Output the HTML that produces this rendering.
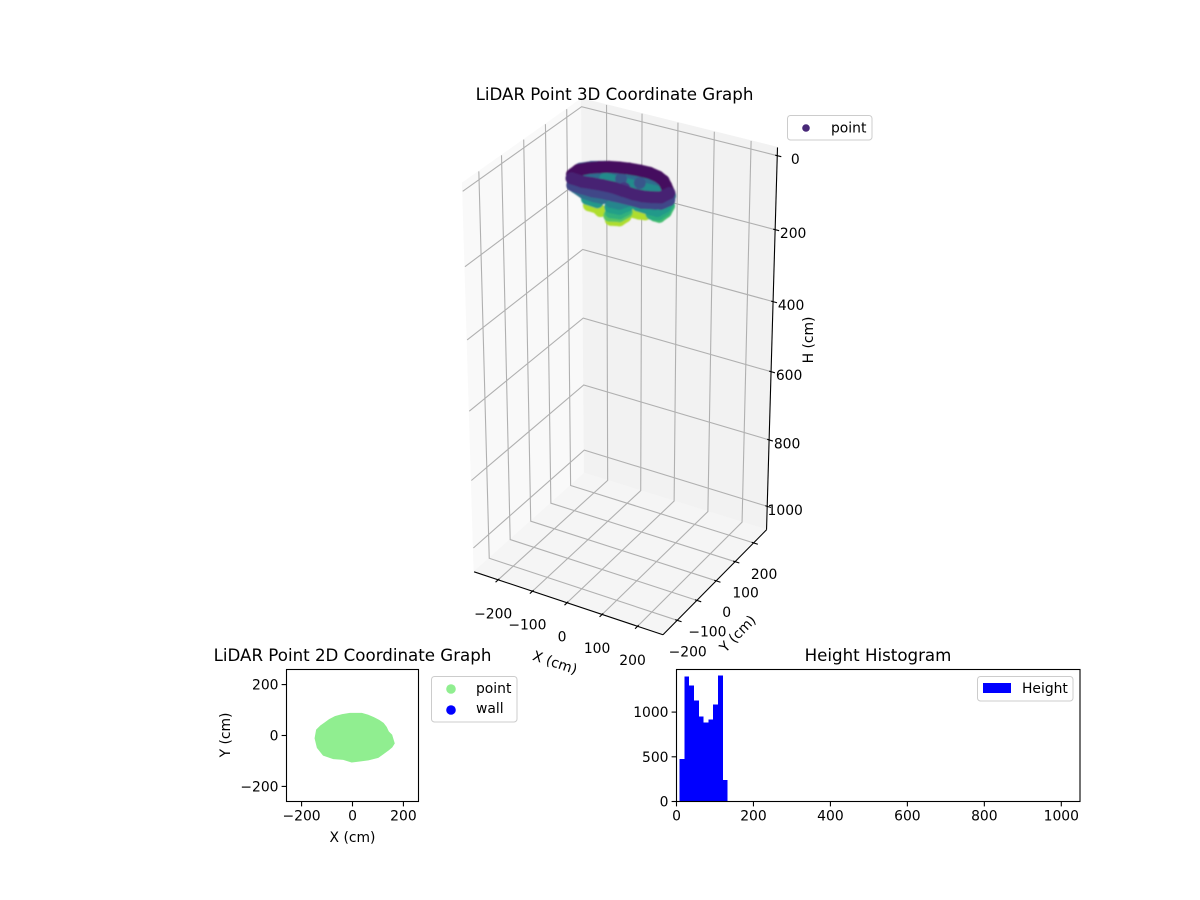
<!DOCTYPE html>
<html lang="en">
<head>
<meta charset="utf-8">
<title>LiDAR Point Graphs</title>
<style>
html,body{margin:0;padding:0;background:#fff;}
svg{display:block;}
text{font-family:"DejaVu Sans","Liberation Sans",sans-serif;font-size:13.89px;fill:#000;}
.title{font-size:16.67px;text-anchor:middle;}
.mid{text-anchor:middle;}
.end{text-anchor:end;}
</style>
</head>
<body>
<svg id="figure" width="1200" height="900" viewBox="0 0 1200 900" xmlns="http://www.w3.org/2000/svg">
  <rect width="1200" height="900" fill="#fff"/>

  <g id="plot3d">
    <g id="panes3d"></g>
    <g id="grid3d"></g>
    <g id="axes3d"></g>
    <g id="cloud3d" filter="url(#soft)"></g>
    <text class="title" x="614.5" y="100">LiDAR Point 3D Coordinate Graph</text>
    <text class="mid" transform="translate(553.5,667) rotate(18.7)">X (cm)</text>
    <text class="mid" transform="translate(741,637) rotate(-45.8)">Y (cm)</text>
    <text class="mid" transform="translate(813,340) rotate(-90)">H (cm)</text>
    <g>
      <rect x="787.5" y="115.5" width="84.5" height="24.5" rx="3" fill="#fff" stroke="#ccc"/>
      <circle cx="806" cy="128" r="3.8" fill="#482878"/>
      <text x="831" y="132.5">point</text>
    </g>
  </g>

  <g id="plot2d">
    <g id="marks2d"></g>
    <rect x="286.5" y="669.5" width="132" height="132" fill="none" stroke="#000" stroke-width="1.1"/>
    <g id="ticks2d"></g>
    <text class="title" x="352.5" y="661">LiDAR Point 2D Coordinate Graph</text>
    <text class="mid" x="352.5" y="842">X (cm)</text>
    <text class="mid" transform="translate(230,735) rotate(-90)">Y (cm)</text>
    <g>
      <rect x="431.5" y="676.5" width="85.5" height="45.5" rx="3" fill="#fff" stroke="#ccc"/>
      <circle cx="451" cy="689" r="4.8" fill="#90ee90"/>
      <text x="476" y="693">point</text>
      <circle cx="451" cy="710" r="4.8" fill="#0000ff"/>
      <text x="476" y="713">wall</text>
    </g>
  </g>

  <g id="plotHist">
    <g id="barsHist" shape-rendering="crispEdges"></g>
    <rect x="676.5" y="669.5" width="403.5" height="132" fill="none" stroke="#000" stroke-width="1.1"/>
    <g id="ticksHist"></g>
    <text class="title" x="878" y="661">Height Histogram</text>
    <g>
      <rect x="977.5" y="676.5" width="95.5" height="24.5" rx="3" fill="#fff" stroke="#ccc"/>
      <rect x="983" y="683" width="28" height="10" fill="#0000ff"/>
      <text x="1022" y="693">Height</text>
    </g>
  </g>
  <defs><filter id="soft" x="-10%" y="-10%" width="120%" height="120%"><feGaussianBlur stdDeviation="0.8"/></filter></defs>
</svg>

<script>
// ---- chart data ----
const xTicks3d = [-200, -100, 0, 100, 200];
const yTicks3d = [-200, -100, 0, 100, 200];
const zTicks3d = [0, 200, 400, 600, 800, 1000];

// 3D points listed far-to-near (cm), grouped into contour bands of bandSizes points each
const bandSizes = [8,7,5,1,1,1,13,3,3,3,4,3,3,3,3,4,5,2,4,4,11,11];
const pointX = [-136,-117,-90,-58,-24,15,53,93,
  -129,-102,-71,-36,0,35,72,
  -88,-51,-15,18,50,
  -29,20,14,
  -110,-110,-94,-75,-56,-34,-10,16,43,70,92,110,134,
  -100,-77,-61, -17,2,4, 8,25,39,
  84,96,97,88,
  -13,9,13,
  -7,13,17,
  -12,11,19,
  -11,10,20,
  82,98,100,92,
  43,76,96,101,92,
  -78,-48,
  74,92,107,102,
  -113,-80,-50,-29,
  -104,-75,-47,-22,5,32,60,84,102,123,131,
  -109,-78,-53,-28,-1,29,59,82,102,122,128];
const pointY = [37,59,76,85,90,86,77,49,
  49,65,75,79,80,76,60,
  73,73,74,73,75,
  46,50,-13,
  -45,-17,5,21,35,44,51,55,56,49,36,16,-12,
  16,15,4, -23,-15,9, 39,39,43,
  10,10,39,71,
  -37,-27,0,
  -40,-34,-10,
  -34,-31,-5,
  -32,-30,-7,
  -3,1,30,61,
  1,-1,0,27,61,
  -30,-33,
  -12,-6,10,50,
  -25,-41,-44,-42,
  -54,-57,-58,-53,-52,-50,-50,-51,-40,-32,-6,
  -49,-52,-47,-43,-41,-45,-48,-46,-39,-29,0];
const pointH = [38,38,38,38,38,38,38,38,
  52,52,52,52,52,52,52,
  68,68,68,68,68,
  42,42,30,
  12,12,12,12,12,12,12,12,12,12,12,12,12,
  118,118,118, 118,118,118, 118,118,118,
  95,95,95,95,
  100,100,100,
  88,88,88,
  78,78,78,
  65,65,65,
  85,85,85,85,
  75,75,75,75,75,
  75,75,
  55,55,55,55,
  55,55,55,55,
  35,35,35,35,35,35,35,35,35,35,35,
  20,20,20,20,20,20,20,20,20,20,20];

const xTicks2d = [-200, 0, 200];
const yTicks2d = [-200, 0, 200];
// outer boundary of the dense 2D point region (cm)
const regionX = [-147,-141,-126,-108,-90,-69,-40,-10,36,60,82,103,121,133,141,154,164,155,141,101,62,29,-3,-36,-75,-115,-138];
const regionY = [-11,22,37,50,63,74,82,87,87,80,71,60,48,32,15,2,-31,-45,-57,-86,-96,-100,-104,-94,-91,-77,-48];

const histEdges = [8,20.5,33,45.5,58,70.5,83,95.5,108,120.5,133];
const histCounts = [474,1396,1296,1130,952,885,918,1085,1407,240];
const histXTicks = [0,200,400,600,800,1000];
const histYTicks = [0,500,1000];

// ---- helpers ----
const NS = 'http://www.w3.org/2000/svg';
function mk(tag, parent, attrs) {
  const el = document.createElementNS(NS, tag);
  for (const k in attrs) el.setAttribute(k, attrs[k]);
  parent.appendChild(el);
  return el;
}
function fmt(v) { return String(v).replace('-', '\u2212'); }
const $ = id => document.getElementById(id);

// ---- 3D camera, fitted to the box corners ----
const boxCalib = [[-1,-1,1,474,571.5],[1,-1,1,663,635],[1,1,1,766.5,529.5],[-1,1,1,584.5,473.5],
                  [-1,-1,0,462.5,183],[-1,1,0,581.5,98.5],[1,1,0,777.5,147.5]];
function fitCamera() {
  const A = [], B = [];
  boxCalib.forEach(c => {
    const [X,Y,Z,u0,v0] = c, u = u0/100, v = v0/100;
    A.push([X,Y,Z,1,0,0,0,0,-u*X,-u*Y,-u*Z]); B.push(u);
    A.push([0,0,0,0,X,Y,Z,1,-v*X,-v*Y,-v*Z]); B.push(v);
  });
  const n = 11, M = [];
  for (let i = 0; i < n; i++) {
    M.push(new Array(n + 1).fill(0));
    for (let r = 0; r < A.length; r++) {
      for (let j = 0; j < n; j++) M[i][j] += A[r][i] * A[r][j];
      M[i][n] += A[r][i] * B[r];
    }
    M[i][i] += 1e-9;
  }
  for (let i = 0; i < n; i++) {
    let p = i;
    for (let r = i + 1; r < n; r++) if (Math.abs(M[r][i]) > Math.abs(M[p][i])) p = r;
    [M[i], M[p]] = [M[p], M[i]];
    for (let r = 0; r < n; r++) if (r !== i) {
      const f = M[r][i] / M[i][i];
      for (let j = i; j <= n; j++) M[r][j] -= f * M[i][j];
    }
  }
  return M.map((row, i) => row[n] / row[i]);
}
const cam = fitCamera();
function project(X, Y, Z) {
  const w = cam[8]*X + cam[9]*Y + cam[10]*Z + 1;
  return [100*(cam[0]*X + cam[1]*Y + cam[2]*Z + cam[3])/w, 100*(cam[4]*X + cam[5]*Y + cam[6]*Z + cam[7])/w];
}
const bx = x => x / 271, by = y => y / 271, bz = h => (h + 21.9) / 1093.8;

// viridis colour scale
const viridisStops = ['#440154','#482878','#3e4989','#31688e','#26828e','#1f9e89','#35b779','#6ece58','#b5de2b','#fde725'];
function viridis(t) {
  t = Math.max(0, Math.min(1, t)) * (viridisStops.length - 1);
  const i = Math.min(Math.floor(t), viridisStops.length - 2), f = t - i;
  const a = viridisStops[i], b = viridisStops[i + 1];
  const ch = s => parseInt(a.substr(s, 2), 16) * (1 - f) + parseInt(b.substr(s, 2), 16) * f;
  return 'rgb(' + Math.round(ch(1)) + ',' + Math.round(ch(3)) + ',' + Math.round(ch(5)) + ')';
}

// ---- 3D panes ----
function pane(corners, fill, name) {
  const pts = corners.map(c => project(c[0], c[1], c[2]).join(',')).join(' ');
  const el = mk('polygon', $('panes3d'), {points: pts, fill: fill, stroke: fill});
  
  
}
pane([[-1,-1,0],[-1,1,0],[-1,1,1],[-1,-1,1]], '#f9f9f9', 'left-pane');
pane([[-1,1,0],[1,1,0],[1,1,1],[-1,1,1]], '#f2f2f2', 'back-pane');
pane([[-1,-1,1],[1,-1,1],[1,1,1],[-1,1,1]], '#f5f5f5', 'floor-pane');

// ---- 3D gridlines ----
function gridPath(pts, name) {
  const d = pts.map((p, i) => (i ? 'L' : 'M') + project(p[0], p[1], p[2]).map(v => v.toFixed(2)).join(' ')).join('');
  const el = mk('path', $('grid3d'), {d: d, fill: 'none', stroke: '#b0b0b0', 'stroke-width': 1.1});
  
  
}
xTicks3d.forEach(t => gridPath([[bx(t),-1,1],[bx(t),1,1],[bx(t),1,0]], 'x-gridline'));
yTicks3d.forEach(t => gridPath([[1,by(t),1],[-1,by(t),1],[-1,by(t),0]], 'y-gridline'));
zTicks3d.forEach(t => gridPath([[-1,-1,bz(t)],[-1,1,bz(t)],[1,1,bz(t)]], 'h-gridline'));

// ---- 3D axes ----
function axisLine(a, b, name) {
  const p = project(a[0], a[1], a[2]), q = project(b[0], b[1], b[2]);
  const el = mk('line', $('axes3d'), {x1:p[0], y1:p[1], x2:q[0], y2:q[1], stroke:'#000', 'stroke-width':1.1});
  
  
}
axisLine([-1,-1,1],[1,-1,1], 'x-axis-line-3d');
axisLine([1,-1,1],[1,1,1], 'y-axis-line-3d');
axisLine([1,1,1],[1,1,0], 'h-axis-line-3d');

function tickLabel3d(p, dx, dy, label, name) {
  const el = mk('text', $('axes3d'), {x: p[0] + dx, y: p[1] + dy, 'text-anchor': 'middle'});
  el.textContent = label;
  
  
}
xTicks3d.forEach(t => {
  axisLine([bx(t),-0.98,1],[bx(t),-1.045,1], 'x-tick-3d');
  tickLabel3d(project(bx(t),-1,1), -5, 38.5, fmt(t), 'x-tick-label-3d');
});
yTicks3d.forEach(t => {
  axisLine([0.98,by(t),1],[1.045,by(t),1], 'y-tick-3d');
  tickLabel3d(project(1,by(t),1), 10.5, 36, fmt(t), 'y-tick-label-3d');
});
zTicks3d.forEach(t => {
  axisLine([0.98,1,bz(t)],[1.04,1,bz(t)], 'h-tick-3d');
  tickLabel3d(project(1,1,bz(t)), 18, 8.5, fmt(t), 'h-tick-label-3d');
});

// ---- 3D point cloud ----
const hMin = 8, hMax = 133, pointRadius = 6;
let bandIndex = 0, bandEnd = bandSizes[0];
pointH.forEach((h, i) => {
  if (i === bandEnd) { bandIndex++; bandEnd += bandSizes[bandIndex]; }
  const p = project(bx(pointX[i]), by(pointY[i]), bz(h));
  const colour = viridis((h - hMin) / (hMax - hMin));
  if (i > bandEnd - bandSizes[bandIndex]) {
    const q = project(bx(pointX[i - 1]), by(pointY[i - 1]), bz(pointH[i - 1]));
    const band = mk('line', $('cloud3d'), {x1: q[0].toFixed(2), y1: q[1].toFixed(2), x2: p[0].toFixed(2), y2: p[1].toFixed(2), stroke: colour, 'stroke-width': pointRadius * 2, 'stroke-linecap': 'round'});
    
    
  }
  const el = mk('circle', $('cloud3d'), {cx: p[0].toFixed(2), cy: p[1].toFixed(2), r: pointRadius, fill: colour});
  
  
});

// ---- 2D scatter region ----
const sx2 = x => 352.5 + x * 0.2546, sy2 = y => 735.5 - y * 0.2546;
{
  const pts = regionX.map((x, i) => sx2(x).toFixed(2) + ',' + sy2(regionY[i]).toFixed(2)).join(' ');
  const el = mk('polygon', $('marks2d'), {points: pts, fill: '#90ee90', stroke: '#90ee90', 'stroke-width': 1, 'stroke-linejoin': 'round'});
  
  
}
function hTick(group, x, label, y0, name) {
  const t = mk('line', group, {x1:x, x2:x, y1:y0, y2:y0+4.9, stroke:'#000', 'stroke-width':1.1});
  
  
  const l = mk('text', group, {x:x, y:y0+19, 'text-anchor':'middle'});
  l.textContent = label;
  
  
}
function vTick(group, y, label, x0, name) {
  const t = mk('line', group, {x1:x0-4.9, x2:x0, y1:y, y2:y, stroke:'#000', 'stroke-width':1.1});
  
  
  const l = mk('text', group, {x:x0-8, y:y+5, 'text-anchor':'end'});
  l.textContent = label;
  
  
}
xTicks2d.forEach(t => hTick($('ticks2d'), sx2(t), fmt(t), 801.5, 'x-2d'));
yTicks2d.forEach(t => vTick($('ticks2d'), sy2(t), fmt(t), 286.5, 'y-2d'));

// ---- histogram ----
const sxH = x => 676.5 + x * 0.3848, syH = y => 801.5 - y * 0.0894;
histCounts.forEach((c, i) => {
  const x0 = sxH(histEdges[i]), x1 = sxH(histEdges[i + 1]), y = syH(c);
  const el = mk('rect', $('barsHist'), {x:x0, y:y, width:x1-x0, height:801.5-y, fill:'#0000ff'});
  
  
});
histXTicks.forEach(t => hTick($('ticksHist'), sxH(t), fmt(t), 801.5, 'x-hist'));
histYTicks.forEach(t => vTick($('ticksHist'), syH(t), fmt(t), 676.5, 'y-hist'));
</script>
</body>
</html>
